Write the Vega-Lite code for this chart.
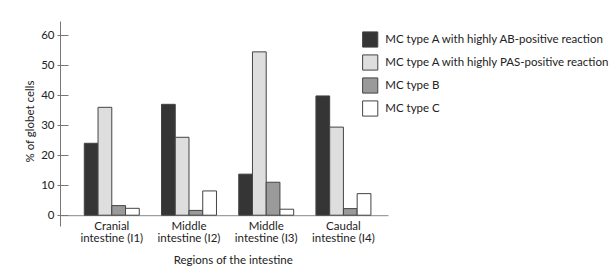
{
  "$schema": "https://vega.github.io/schema/vega-lite/v6.json",
  "width": 328,
  "height": 205,
  "autosize": {"type": "none"},
  "padding": {"left": 60, "top": 21, "right": 223, "bottom": 52},
  "background": "white",
  "config": {
    "font": "Lato",
    "view": {"stroke": null},
    "axis": {"labelColor": "#222", "titleColor": "#222", "titleFontWeight": "normal", "grid": false}
  },
  "data": {
    "values": [
      {"region": "Cranial intestine (I1)", "type": "MC type A with highly AB-positive reaction", "pct": 24},
      {"region": "Cranial intestine (I1)", "type": "MC type A with highly PAS-positive reaction", "pct": 36},
      {"region": "Cranial intestine (I1)", "type": "MC type B", "pct": 3.2},
      {"region": "Cranial intestine (I1)", "type": "MC type C", "pct": 2.3},
      {"region": "Middle intestine (I2)", "type": "MC type A with highly AB-positive reaction", "pct": 37},
      {"region": "Middle intestine (I2)", "type": "MC type A with highly PAS-positive reaction", "pct": 26},
      {"region": "Middle intestine (I2)", "type": "MC type B", "pct": 1.6},
      {"region": "Middle intestine (I2)", "type": "MC type C", "pct": 8.1},
      {"region": "Middle intestine (I3)", "type": "MC type A with highly AB-positive reaction", "pct": 13.7},
      {"region": "Middle intestine (I3)", "type": "MC type A with highly PAS-positive reaction", "pct": 54.5},
      {"region": "Middle intestine (I3)", "type": "MC type B", "pct": 11},
      {"region": "Middle intestine (I3)", "type": "MC type C", "pct": 2},
      {"region": "Caudal intestine (I4)", "type": "MC type A with highly AB-positive reaction", "pct": 39.8},
      {"region": "Caudal intestine (I4)", "type": "MC type A with highly PAS-positive reaction", "pct": 29.4},
      {"region": "Caudal intestine (I4)", "type": "MC type B", "pct": 2.2},
      {"region": "Caudal intestine (I4)", "type": "MC type C", "pct": 7.2}
    ]
  },
  "layer": [
    {
      "mark": {"type": "bar", "stroke": "#444", "strokeWidth": 1},
      "encoding": {
        "x": {
          "field": "region",
          "type": "nominal",
          "sort": null,
          "scale": {"paddingInner": 0.288, "paddingOuter": 0.268, "align": 0.587},
          "axis": {
            "orient": "bottom",
            "offset": -10.8,
            "domainColor": "#888",
            "ticks": false,
            "labelAngle": 0,
            "labelFontSize": 11.5,
            "labelPadding": 5,
            "labelLineHeight": 12.3,
            "labelExpr": "[slice(datum.label, 0, indexof(datum.label, ' ')), slice(datum.label, indexof(datum.label, ' ') + 1)]",
            "title": "Regions of the intestine",
            "titleFontSize": 11.5,
            "titlePadding": 10,
            "titleX": 172.7,
            "titleAlign": "center"
          }
        },
        "xOffset": {"field": "type", "sort": null, "scale": {"paddingInner": 0, "paddingOuter": 0}},
        "y": {
          "field": "pct",
          "type": "quantitative",
          "scale": {"domain": [-3.6, 64.8], "nice": false, "zero": false},
          "axis": {
            "orient": "left",
            "values": [0, 10, 20, 30, 40, 50, 60],
            "tickSize": 3,
            "tickColor": "#777",
            "domainColor": "#777",
            "labelPadding": 3,
            "labelFontSize": 11.5,
            "title": "% of globet cells",
            "titleFontSize": 11.5,
            "titlePadding": 5,
            "titleY": 100
          }
        },
        "color": {
          "field": "type",
          "type": "nominal",
          "sort": null,
          "scale": {
            "domain": ["MC type A with highly AB-positive reaction", "MC type A with highly PAS-positive reaction", "MC type B", "MC type C"],
            "range": ["#353535", "#dedede", "#9a9a9a", "#ffffff"]
          },
          "legend": {
            "orient": "none",
            "legendX": 301.7,
            "legendY": 10,
            "title": null,
            "symbolType": "square",
            "symbolSize": 230,
            "symbolStrokeColor": "#444",
            "symbolStrokeWidth": 1,
            "symbolOpacity": 1,
            "labelFontSize": 11.5,
            "labelColor": "#222",
            "labelOffset": 6.5,
            "labelLimit": 400,
            "rowPadding": 2
          }
        }
      }
    },
    {
      "mark": {"type": "rule", "opacity": 0},
      "encoding": {
        "y": {
          "field": "pct",
          "type": "quantitative",
          "axis": {
            "orient": "right",
            "offset": -328,
            "values": [0, 10, 20, 30, 40, 50, 60],
            "ticks": true,
            "tickSize": 8,
            "tickColor": "#777",
            "labels": false,
            "domain": false,
            "title": null
          }
        }
      }
    }
  ],
  "resolve": {"axis": {"y": "independent"}}
}
